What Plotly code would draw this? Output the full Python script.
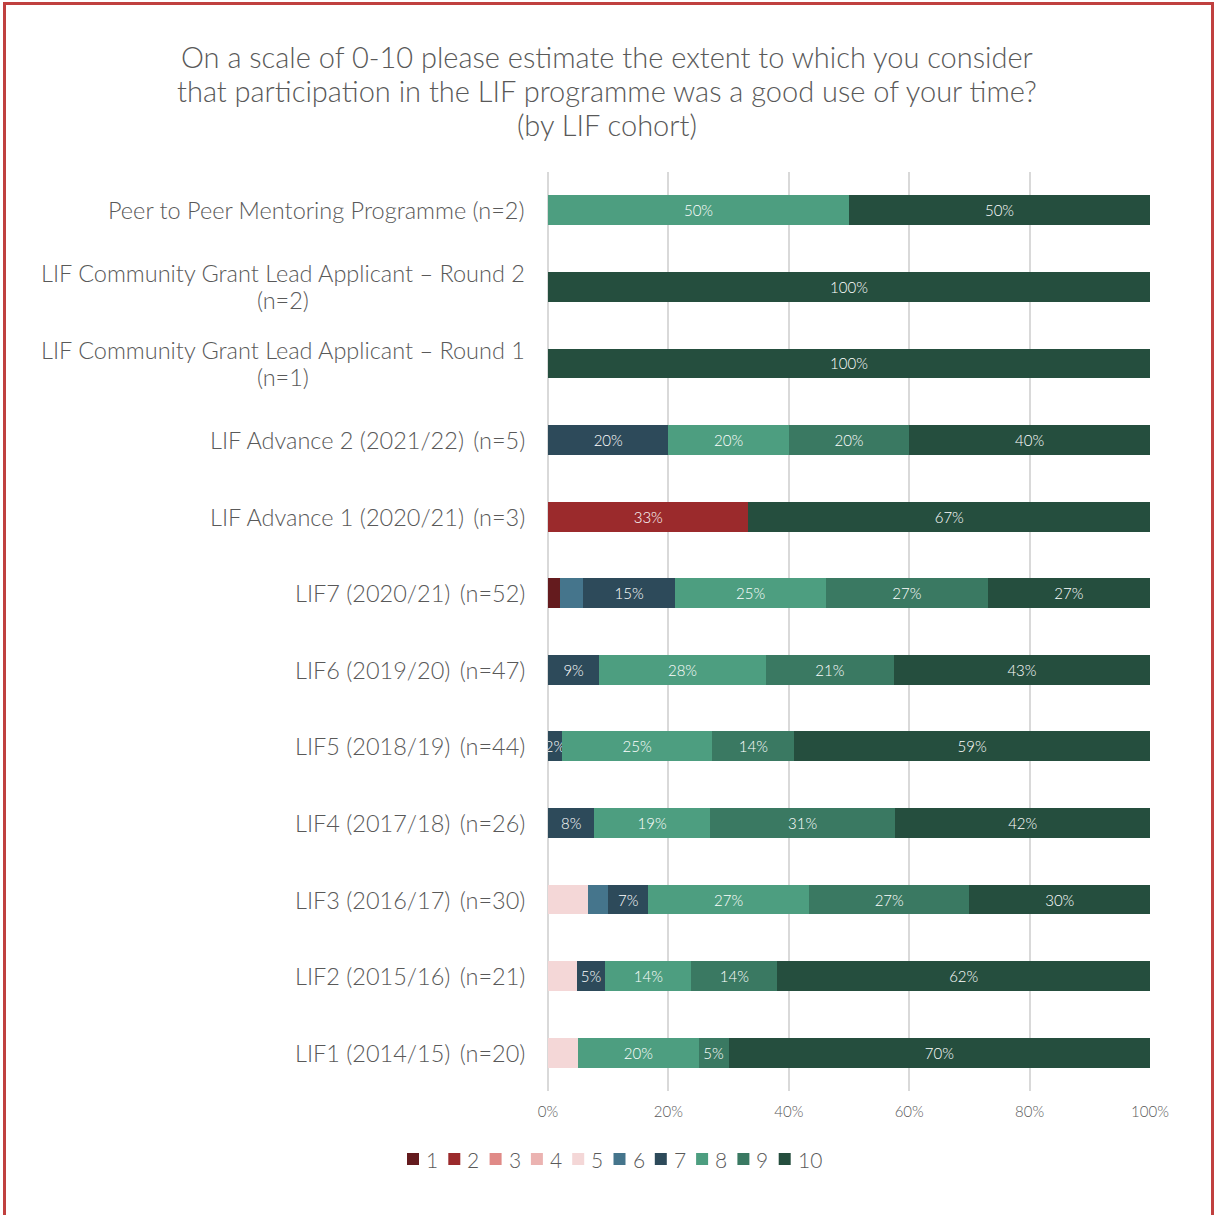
import plotly.graph_objects as go

# Cohorts, listed top to bottom as displayed
cohorts = [
    "Peer to Peer Mentoring Programme (n=2)",
    "LIF Community Grant Lead Applicant – Round 2<br>(n=2)",
    "LIF Community Grant Lead Applicant – Round 1<br>(n=1)",
    "LIF Advance 2 (2021/22)\u2009 (n=5)",
    "LIF Advance 1 (2020/21)\u2009 (n=3)",
    "LIF7 (2020/21)\u2009 (n=52)",
    "LIF6 (2019/20)\u2009 (n=47)",
    "LIF5 (2018/19)\u2009 (n=44)",
    "LIF4 (2017/18)\u2009 (n=26)",
    "LIF3 (2016/17)\u2009 (n=30)",
    "LIF2 (2015/16)\u2009 (n=21)",
    "LIF1 (2014/15)\u2009 (n=20)",
]

# Share of respondents (%) giving each score, per cohort (same order as cohorts)
score_1 = [0, 0, 0, 0, 0, 1.92, 0, 0, 0, 0, 0, 0]
score_2 = [0, 0, 0, 0, 33.3, 0, 0, 0, 0, 0, 0, 0]
score_3 = [0, 0, 0, 0, 0, 0, 0, 0, 0, 0, 0, 0]
score_4 = [0, 0, 0, 0, 0, 0, 0, 0, 0, 0, 0, 0]
score_5 = [0, 0, 0, 0, 0, 0, 0, 0, 0, 6.67, 4.76, 5.0]
score_6 = [0, 0, 0, 0, 0, 3.85, 0, 0, 0, 3.33, 0, 0]
score_7 = [0, 0, 0, 20.0, 0, 15.38, 8.51, 2.3, 7.7, 6.67, 4.76, 0]
score_8 = [50.0, 0, 0, 20.0, 0, 25.0, 27.66, 25.0, 19.2, 26.67, 14.29, 20.0]
score_9 = [0, 0, 0, 20.0, 0, 26.92, 21.28, 13.6, 30.8, 26.67, 14.29, 5.0]
score_10 = [50.0, 100.0, 100.0, 40.0, 66.7, 26.92, 42.55, 59.1, 42.3, 30.0, 61.9, 70.0]

score_names = ["1", "2", "3", "4", "5", "6", "7", "8", "9", "10"]
score_values = [score_1, score_2, score_3, score_4, score_5,
                score_6, score_7, score_8, score_9, score_10]
score_colors = ["#641B1E", "#9B2A2C", "#E08A87", "#EBB3B1", "#F4D7D7",
                "#45758C", "#2D4A5A", "#4D9E80", "#3A7962", "#254E3E"]
# Scores whose segments carry a value label
labelled = {"2", "7", "8", "9", "10"}

x_ticks = [0, 20, 40, 60, 80, 100]

FONT = "Lato"
WEIGHT = 300
GREY = "#595959"

# Figure geometry (pixels) used to place free-standing elements
W, H = 1214, 1215
L, R, T, B = 548, 64, 172, 124
PW, PH = W - L - R, H - T - B


def px_x(px):
    return (px - L) / PW


def px_y(py):
    return (H - B - py) / PH


fig = go.Figure()
for name, vals, col in zip(score_names, score_values, score_colors):
    fig.add_trace(go.Bar(
        name=name,
        y=cohorts,
        x=vals,
        orientation="h",
        marker=dict(color=col, line=dict(width=0)),
        text=[f"{v:.0f}%" if (v > 0 and name in labelled) else "" for v in vals],
        textposition="inside",
        insidetextanchor="middle",
        textangle=0,
        textfont=dict(family=FONT, size=15, color="#FFFFFF", weight=WEIGHT),
        constraintext="none",
        hoverinfo="name+x",
        showlegend=False,
    ))

# Category labels: centred multi-line text, right-aligned to the axis
for c in cohorts:
    fig.add_annotation(
        x=px_x(527), xref="paper", y=c, yref="y",
        text=f"<span style='font-size:23.5px'>{c}</span>",
        showarrow=False, xanchor="right", yanchor="middle",
        align="center", font=dict(family=FONT, size=20.5, color=GREY, weight=WEIGHT),
    )

# Chart title, centred on the whole figure
fig.add_annotation(
    x=px_x(W / 2), xref="paper", y=px_y(90), yref="paper",
    xanchor="center", yanchor="middle", showarrow=False, align="center",
    text="<span style='font-size:29px'>"
         "On a scale of 0-10 please estimate the extent to which you consider<br>"
         "that participation in the LIF programme was a good use of your time?<br>"
         "(by LIF cohort)</span>",
    font=dict(family=FONT, size=26, color=GREY, weight=WEIGHT),
)

# Legend: colour key for each score, laid out in one row
for i, (name, col) in enumerate(zip(score_names, score_colors)):
    left = 407 + 41.3 * i
    fig.add_shape(type="rect", xref="paper", yref="paper",
                  x0=px_x(left), x1=px_x(left + 12),
                  y0=px_y(1165), y1=px_y(1153),
                  fillcolor=col, line=dict(width=0))
    fig.add_annotation(x=px_x(left + 17), xref="paper", y=px_y(1159), yref="paper",
                       text=name, showarrow=False, xanchor="left", yanchor="middle",
                       font=dict(family=FONT, size=21, color=GREY, weight=WEIGHT))

# Outer frame
fig.add_shape(type="rect", xref="paper", yref="paper",
              x0=px_x(4.5), x1=px_x(1212.5), y0=px_y(1225), y1=px_y(3.5),
              line=dict(color="#C0403F", width=3), fillcolor="rgba(0,0,0,0)",
              layer="above")

fig.update_layout(
    width=W, height=H,
    margin=dict(l=L, r=R, t=T, b=B),
    paper_bgcolor="white", plot_bgcolor="white",
    barmode="stack", bargap=0.61,
    uniformtext=dict(minsize=15, mode="show"),
    xaxis=dict(
        range=[0, 100], tickmode="array", tickvals=x_ticks,
        ticktext=[f"{t}%" for t in x_ticks],
        showgrid=True, gridcolor="#D9D9D9", gridwidth=2,
        zeroline=True, zerolinecolor="#D9D9D9", zerolinewidth=2,
        showline=False, ticks="", ticklabelstandoff=10,
        tickfont=dict(family=FONT, size=15, color=GREY, weight=WEIGHT),
    ),
    yaxis=dict(autorange="reversed", showticklabels=False, showgrid=False,
               zeroline=False, ticks=""),
    showlegend=False,
)

fig.write_html("out.html")
